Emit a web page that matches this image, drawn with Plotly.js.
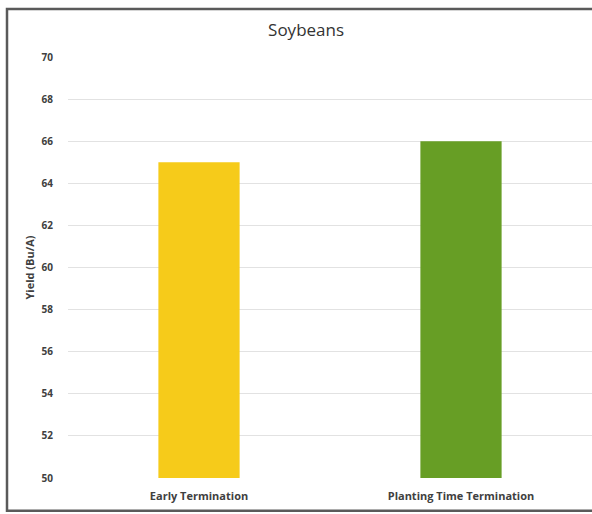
<!DOCTYPE html>
<html>
<head>
<meta charset="utf-8">
<script src="https://cdn.plot.ly/plotly-3.0.1.min.js"></script>
<style>html,body{margin:0;padding:0;background:#fff;}#chart{width:592px;height:514px;}</style>
</head>
<body>
<div id="chart"></div>
<script>
const categories = ["Early Termination", "Planting Time Termination"];
const yieldValues = [65, 66];
const barColors = ["#F6CB1A", "#679E25"];
const yTickValues = [50, 52, 54, 56, 58, 60, 62, 64, 66, 68, 70];

const trace = {
  type: "bar",
  x: categories,
  y: yieldValues,
  marker: {color: barColors},
  width: 0.31,
  hoverinfo: "x+y"
};

const layout = {
  width: 592,
  height: 514,
  margin: {l: 68, r: 0, t: 57, b: 36},
  paper_bgcolor: "#ffffff",
  plot_bgcolor: "#ffffff",
  showlegend: false,
  title: {
    text: "Soybeans",
    font: {family: "Open Sans, Lato, sans-serif", size: 17, color: "#333333"},
    x: 0.517, xanchor: "center", y: 0.942, yanchor: "middle"
  },
  xaxis: {
    type: "category",
    showgrid: false,
    zeroline: false,
    showline: false,
    ticks: "",
    tickfont: {family: "Open Sans, Lato, sans-serif", size: 11, color: "#404040", weight: "bold"},
    ticklabelstandoff: 10
  },
  yaxis: {
    range: [50, 70],
    tickvals: yTickValues,
    ticktext: yTickValues.map(String),
    showgrid: true,
    gridcolor: "#e2e2e2",
    gridwidth: 1,
    zeroline: false,
    showline: false,
    ticks: "",
    ticklabelstandoff: 14,
    tickfont: {family: "Open Sans, Lato, sans-serif", size: 10, color: "#404040", weight: "bold"},
    title: {
      text: "Yield (Bu/A)",
      font: {family: "Open Sans, Lato, sans-serif", size: 11, color: "#404040", weight: "bold"},
      standoff: 4
    }
  },
  shapes: [
    {type: "rect", xref: "paper", yref: "paper", x0: -0.1164, x1: 1.06, y0: -0.078, y1: 1.114,
     line: {color: "#5a5a5a", width: 2.5}, fillcolor: "rgba(0,0,0,0)", layer: "below"}
  ]
};

Plotly.newPlot("chart", [trace], layout, {displayModeBar: false, staticPlot: true});
</script>
</body>
</html>
